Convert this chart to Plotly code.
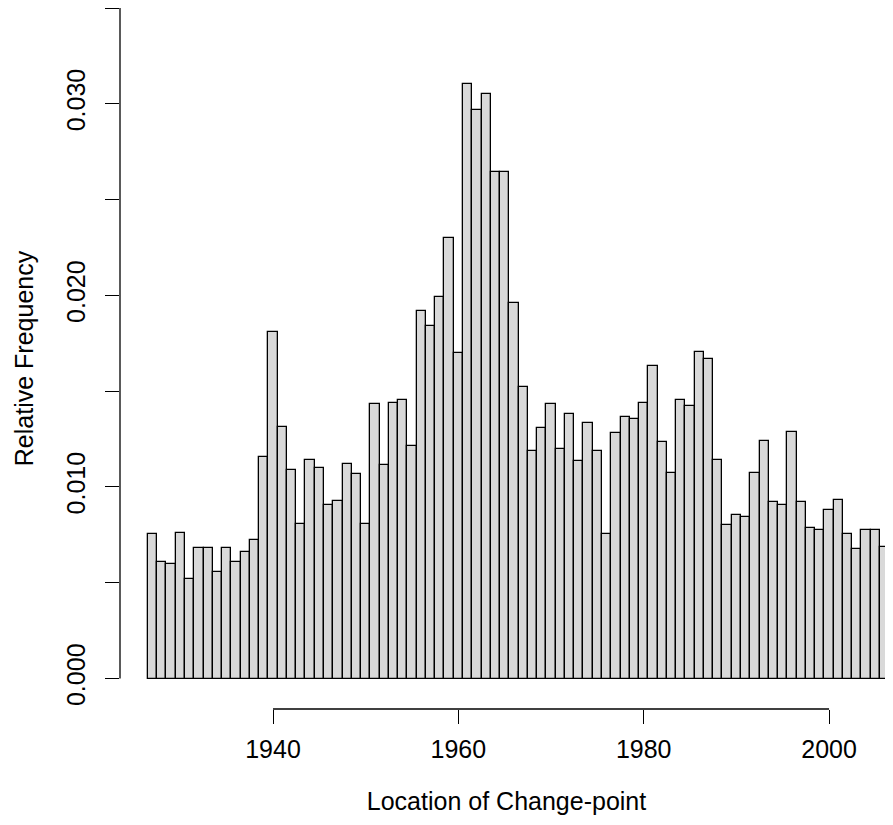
import plotly.graph_objects as go

years = list(range(1927, 2008))
rel_freq = [
    0.00753, 0.00609, 0.00600, 0.00760, 0.00519, 0.00681, 0.00681, 0.00556, 0.00681, 0.00609,
    0.00661, 0.00721, 0.01156, 0.01811, 0.01315, 0.01088, 0.00807, 0.01143, 0.01097, 0.00905,
    0.00926, 0.01120, 0.01066, 0.00807, 0.01431, 0.01113, 0.01439, 0.01453, 0.01212, 0.01918,
    0.01840, 0.01993, 0.02301, 0.01697, 0.03102, 0.02967, 0.03050, 0.02645, 0.02645, 0.01959,
    0.01523, 0.01189, 0.01309, 0.01432, 0.01196, 0.01379, 0.01134, 0.01332, 0.01187, 0.00753,
    0.01280, 0.01363, 0.01354, 0.01440, 0.01630, 0.01233, 0.01073, 0.01453, 0.01424, 0.01705,
    0.01667, 0.01141, 0.00799, 0.00854, 0.00843, 0.01075, 0.01242, 0.00922, 0.00906, 0.01286,
    0.00920, 0.00786, 0.00776, 0.00877, 0.00930, 0.00753, 0.00677, 0.00776, 0.00776, 0.00685,
    0.00906,
]
x_ticks = [1940, 1960, 1980, 2000]
y_ticks = [0.000, 0.005, 0.010, 0.015, 0.020, 0.025, 0.030, 0.035]
y_ticktext = ["0.000", "", "0.010", "", "0.020", "", "0.030", ""]

FONT = "Liberation Sans, Arial, Helvetica, sans-serif"

fig = go.Figure(
    go.Bar(
        x=years,
        y=rel_freq,
        width=1,
        marker=dict(color="#D9D9D9", line=dict(color="black", width=1.3)),
        hoverinfo="x+y",
    )
)

fig.update_layout(
    width=885,
    height=809,
    margin=dict(l=112, r=0, t=0, b=108, autoexpand=False),
    paper_bgcolor="white",
    plot_bgcolor="white",
    bargap=0,
    showlegend=False,
    font=dict(family=FONT, size=25, color="black"),
    xaxis=dict(
        range=[1923.49, 2006.9],
        tickmode="array",
        tickvals=x_ticks,
        ticks="outside",
        ticklen=14,
        tickwidth=1.3,
        tickcolor="black",
        showgrid=False,
        zeroline=False,
        showline=False,
        automargin=False,
        ticklabelstandoff=4,
        title=dict(text="Location of Change-point", standoff=30, font=dict(size=25)),
        tickfont=dict(size=25),
    ),
    yaxis=dict(
        range=[-0.001592, 0.035],
        tickmode="array",
        tickvals=y_ticks,
        ticktext=y_ticktext,
        tickangle=-90,
        ticks="outside",
        ticklen=14,
        tickwidth=1.3,
        tickcolor="black",
        showgrid=False,
        zeroline=False,
        showline=False,
        automargin=False,
        ticklabelstandoff=10,
        title=dict(text="Relative Frequency", standoff=21, font=dict(size=25)),
        tickfont=dict(size=25),
    ),
)

# R-style axis lines spanning only the tick range
fig.add_shape(type="line", xref="paper", yref="y", x0=0, x1=0,
              y0=y_ticks[0], y1=y_ticks[-1], line=dict(color="black", width=1.3))
fig.add_shape(type="line", xref="x", yref="paper", x0=x_ticks[0], x1=x_ticks[-1],
              y0=0, y1=0, line=dict(color="black", width=1.3))

fig.write_html("out.html")
